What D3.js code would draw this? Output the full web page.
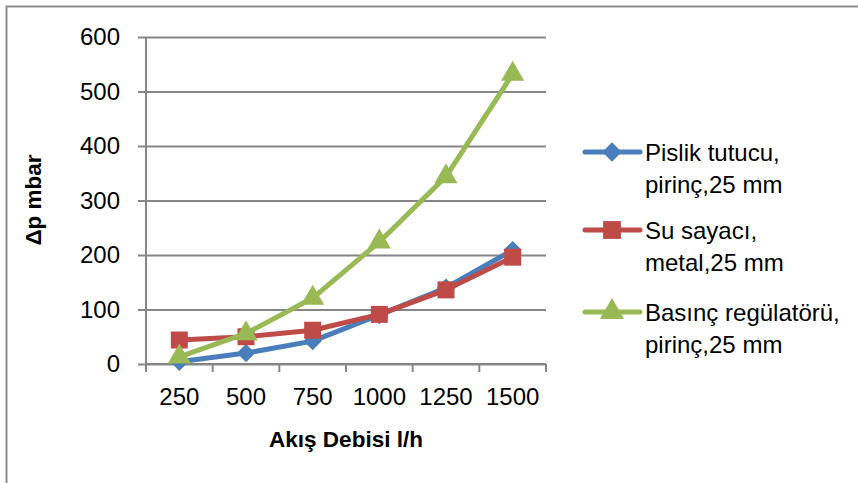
<!DOCTYPE html>
<html>
<head>
<meta charset="utf-8">
<script src="https://cdn.jsdelivr.net/npm/d3@7"></script>
<style>
  html, body { margin: 0; padding: 0; background: #fff; }
  svg { display: block; }
  text { font-family: "Liberation Sans", Arial, sans-serif; fill: #000; }
</style>
</head>
<body>
<svg id="chart" width="858" height="483"></svg>
<script>
// Flow rates (l/h) on the category axis
const flowRates = ["250", "500", "750", "1000", "1250", "1500"];

// Pressure drop (mbar) per component
const pislikTutucu = [4, 20, 42, 90, 140, 209];
const suSayaci = [44, 50, 62, 91, 136, 196];
const basincRegulatoru = [13, 56, 121, 224, 344, 532];

const yTicks = [0, 100, 200, 300, 400, 500, 600];

const seriesNames = [
  ["Pislik tutucu,", "pirinç,25 mm"],
  ["Su sayacı,", "metal,25 mm"],
  ["Basınç regülatörü,", "pirinç,25 mm"]
];

// diamonds are squares turned by 45 degrees
const series = [
  { values: pislikTutucu, color: "#4A7EBB", marker: d3.symbolSquare, size: 170, rot: 45 },
  { values: suSayaci, color: "#BE4B48", marker: d3.symbolSquare, size: 289, rot: 0 },
  { values: basincRegulatoru, color: "#98B954", marker: d3.symbolTriangle, size: 230, rot: 0 }
];

const svg = d3.select("#chart");

// chart frame (right and bottom edges run past the view)
svg.append("rect")
  .attr("x", 6.5).attr("y", 6.5)
  .attr("width", 900).attr("height", 600)
  .attr("fill", "#fff")
  .attr("stroke", "#8c8c8c").attr("stroke-width", 2);

const plot = { left: 146, right: 546, top: 37, bottom: 364 };

const x = d3.scaleBand().domain(flowRates).range([plot.left, plot.right]);
const y = d3.scaleLinear().domain([0, 600]).range([plot.bottom, plot.top]);

const gridColor = "#868686";
const tickFont = 24;

// horizontal gridlines + y axis labels
const yAxis = d3.axisLeft(y).tickValues(yTicks).tickSize(-(plot.right - plot.left)).tickPadding(26);
const gy = svg.append("g").attr("transform", `translate(${plot.left},0)`).call(yAxis);
gy.select(".domain").remove();
gy.selectAll(".tick line")
  .attr("x1", -8)
  .attr("stroke", gridColor).attr("stroke-width", 2);
gy.selectAll(".tick text").attr("font-size", tickFont).style("font-family", "Liberation Sans, Arial, sans-serif");

// vertical axis line
svg.append("line")
  .attr("x1", plot.left).attr("x2", plot.left)
  .attr("y1", plot.top).attr("y2", plot.bottom + 8)
  .attr("stroke", gridColor).attr("stroke-width", 2);

// x axis: category labels and boundary tick marks
const xAxis = d3.axisBottom(x).tickSize(0).tickPadding(24);
const gx = svg.append("g").attr("transform", `translate(0,${plot.bottom})`).call(xAxis);
gx.select(".domain").remove();
gx.selectAll(".tick text").attr("font-size", tickFont).style("font-family", "Liberation Sans, Arial, sans-serif");

const boundaries = flowRates.map(c => x(c)).concat([x(flowRates[flowRates.length - 1]) + x.bandwidth()]);
svg.selectAll(".xb").data(boundaries).enter().append("line")
  .attr("x1", d => d).attr("x2", d => d)
  .attr("y1", plot.bottom).attr("y2", plot.bottom + 8)
  .attr("stroke", gridColor).attr("stroke-width", 2);
svg.append("line")
  .attr("x1", plot.left).attr("x2", plot.right)
  .attr("y1", plot.bottom).attr("y2", plot.bottom)
  .attr("stroke", gridColor).attr("stroke-width", 2);

// axis titles
svg.append("text")
  .attr("x", 346).attr("y", 447)
  .attr("text-anchor", "middle")
  .attr("font-size", 22.5).attr("font-weight", "bold")
  .text("Akış Debisi l/h");

svg.append("text")
  .attr("transform", "translate(41,200) rotate(-90)")
  .attr("text-anchor", "middle")
  .attr("font-size", 22.5).attr("font-weight", "bold")
  .text("Δp mbar");

// series lines and markers
const cx = c => x(c) + x.bandwidth() / 2;
const line = d3.line().x((d, i) => cx(flowRates[i])).y(d => y(d));

series.forEach(s => {
  svg.append("path")
    .attr("d", line(s.values))
    .attr("fill", "none")
    .attr("stroke", s.color).attr("stroke-width", 5)
    .attr("stroke-linejoin", "round");
  svg.selectAll(null).data(s.values).enter().append("path")
    .attr("d", d3.symbol().type(s.marker).size(s.size))
    .attr("transform", (d, i) => `translate(${cx(flowRates[i])},${y(d)}) rotate(${s.rot})`)
    .attr("fill", s.color);
});

// legend
const legendRows = [152, 230, 312];
series.forEach((s, i) => {
  const g = svg.append("g").attr("transform", `translate(0,${legendRows[i]})`);
  g.append("line")
    .attr("x1", 585).attr("x2", 640)
    .attr("stroke", s.color).attr("stroke-width", 5).attr("stroke-linecap", "round");
  g.append("path")
    .attr("d", d3.symbol().type(s.marker).size(s.size * 1.1))
    .attr("transform", `translate(612,0) rotate(${s.rot})`)
    .attr("fill", s.color);
  g.selectAll("text").data(seriesNames[i]).enter().append("text")
    .attr("x", 645)
    .attr("y", (d, j) => j * 32)
    .attr("dy", "0.36em")
    .attr("font-size", 24)
    .text(d => d);
});
</script>
</body>
</html>
